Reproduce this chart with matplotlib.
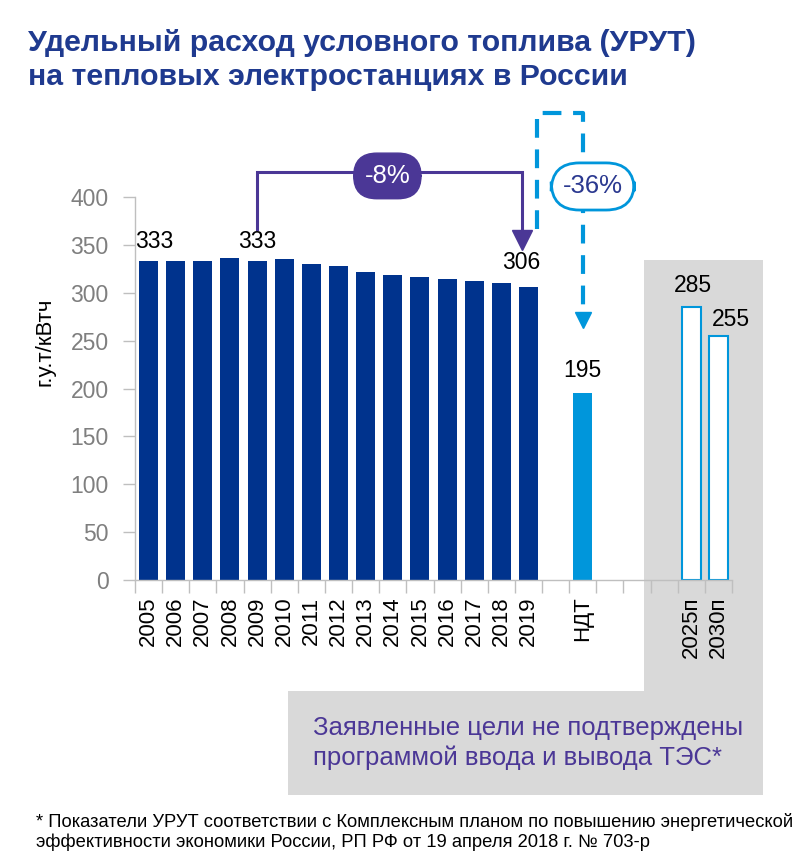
"""УРУТ на ТЭС России: столбцы по годам, НДТ и плановые значения."""

import matplotlib.pyplot as plt
from matplotlib.patches import Rectangle

plt.rcParams["font.family"] = ["Liberation Sans", "DejaVu Sans"]

# ----------------------------------------------------------------------
# data
# ----------------------------------------------------------------------
years = ["2005", "2006", "2007", "2008", "2009", "2010", "2011", "2012",
         "2013", "2014", "2015", "2016", "2017", "2018", "2019"]
urut = [333, 333, 333, 336, 333, 335, 330, 328, 322, 319, 316, 314, 312, 310, 306]
ndt_label = "НДТ"
ndt_value = 195
plan_labels = ["2025п", "2030п"]
plan_values = [285, 255]

NAVY = "#00338D"
CYAN = "#0096DB"
PURPLE = "#4B3796"
TITLE = "#1F3A8F"
GREY_BOX = "#D9D9D9"

W, H = 802, 860
fig = plt.figure(figsize=(W / 100, H / 100), dpi=100)
fig.patch.set_facecolor("white")


def fx(px):
    return px / W


def fy(py):
    return 1 - py / H


# grey background (column behind the plan bars + band with the note)
fig.patches.append(Rectangle((fx(644), fy(795)), fx(763) - fx(644), fy(260) - fy(795),
                             transform=fig.transFigure, fc=GREY_BOX, ec="none", zorder=0))
fig.patches.append(Rectangle((fx(288), fy(795)), fx(763) - fx(288), fy(691) - fy(795),
                             transform=fig.transFigure, fc=GREY_BOX, ec="none", zorder=0))

ax = fig.add_axes([fx(135), fy(580), fx(732) - fx(135), fy(197) - fy(580)])
ax.set_facecolor("none")
ax.set_zorder(2)

# slots: 15 years, blank, НДТ, 3 blanks, 2025п, 2030п
n_years = len(years)
x_years = list(range(n_years))
x_ndt = n_years + 1
x_plan = [x_ndt + 4, x_ndt + 5]
n_slots = x_plan[-1] + 1

ax.bar(x_years, urut, width=0.7, color=NAVY, zorder=2)
ax.bar([x_ndt], [ndt_value], width=0.7, color=CYAN, zorder=2)
ax.bar(x_plan, plan_values, width=0.7, color="white", edgecolor=CYAN, lw=1.5, zorder=2)

ax.set_xlim(-0.5, n_slots - 0.5)
ax.set_ylim(0, 400)

# axes styling
for s in ["top", "right"]:
    ax.spines[s].set_visible(False)
for s in ["left", "bottom"]:
    ax.spines[s].set_color("#BFBFBF")
    ax.spines[s].set_linewidth(1.0)

ax.set_yticks(range(0, 401, 50))
ax.tick_params(axis="y", colors="#BFBFBF", labelcolor="#7F7F7F", labelsize=16.5,
               length=9, width=1.0, pad=10)

labels = [""] * n_slots
for i, y in zip(x_years, years):
    labels[i] = y
labels[x_ndt] = ndt_label
for i, p in zip(x_plan, plan_labels):
    labels[i] = p
ax.set_xticks(range(n_slots))
ax.set_xticklabels(labels, rotation=90, fontsize=16, va="top")
ax.tick_params(axis="x", which="major", length=0, pad=12)
ax.set_xticks([i - 0.5 for i in range(n_slots + 1)], minor=True)
ax.tick_params(axis="x", which="minor", length=9, color="#BFBFBF", width=1.0)

# value labels
lab_kw = dict(ha="center", va="center", fontsize=16.5, color="black", clip_on=False)
ax.text(0.2, urut[0] + 21, str(urut[0]), **lab_kw)
ax.text(4, urut[4] + 21, str(urut[4]), **lab_kw)
ax.text(13.75, urut[-1] + 26, str(urut[-1]), **lab_kw)
ax.text(x_ndt, ndt_value + 24, str(ndt_value), **lab_kw)
ax.text(x_plan[0] + 0.05, plan_values[0] + 23, str(plan_values[0]), **lab_kw)
ax.text(x_plan[1] + 0.45, plan_values[1] + 17, str(plan_values[1]), **lab_kw)

# -8% bracket 2009 -> 2019
ax.plot([4, 4, 13.75, 13.75], [367, 426, 426, 360], color=PURPLE, lw=2.2,
        clip_on=False, zorder=3, solid_joinstyle="miter")
ax.plot([13.75], [355.5], marker="v", ms=14, color=PURPLE, mec=PURPLE,
        clip_on=False, zorder=3)
ax.text(8.8, 422, "-8%", ha="center", va="center", fontsize=18.5, color="white",
        clip_on=False, zorder=4,
        bbox=dict(boxstyle="round,pad=0.42,rounding_size=0.9", fc=PURPLE, ec=PURPLE))

# -36% dashed arrow 2019 -> НДТ
ax.plot([14.3, 14.3, x_ndt, x_ndt], [367, 488, 488, 278], color=CYAN, lw=3,
        ls=(0, (4.5, 2.8)), clip_on=False, zorder=3)
ax.plot([x_ndt], [271.4], marker="v", ms=12, color=CYAN, mec=CYAN,
        clip_on=False, zorder=3)
ax.text(x_ndt + 0.37, 411, "-36%", ha="center", va="center", fontsize=18.5,
        color="#2B3990", clip_on=False, zorder=4,
        bbox=dict(boxstyle="round,pad=0.45,rounding_size=1.1", fc="white", ec=CYAN, lw=2))

# y label
fig.text(fx(45), fy(342), "г.у.т/кВтч", rotation=90, ha="center", va="center",
         fontsize=16, color="black")

# title
fig.text(fx(28), fy(29), "Удельный расход условного топлива (УРУТ)\nна тепловых электростанциях в России",
         ha="left", va="top", fontsize=21.8, fontweight="bold", color=TITLE,
         linespacing=1.26)

# note in the grey band
fig.text(fx(313), fy(743), "Заявленные цели не подтверждены\nпрограммой ввода и вывода ТЭС*",
         ha="left", va="center", fontsize=18.5, color=PURPLE, linespacing=1.25)

# footnote
fig.text(fx(36), fy(832), "* Показатели УРУТ соответствии с Комплексным планом по повышению энергетической\n"
         "эффективности экономики России, РП РФ от 19 апреля 2018 г. № 703-р",
         ha="left", va="center", fontsize=13.25, color="black", linespacing=1.15)

fig.savefig("out.png", dpi=100)
